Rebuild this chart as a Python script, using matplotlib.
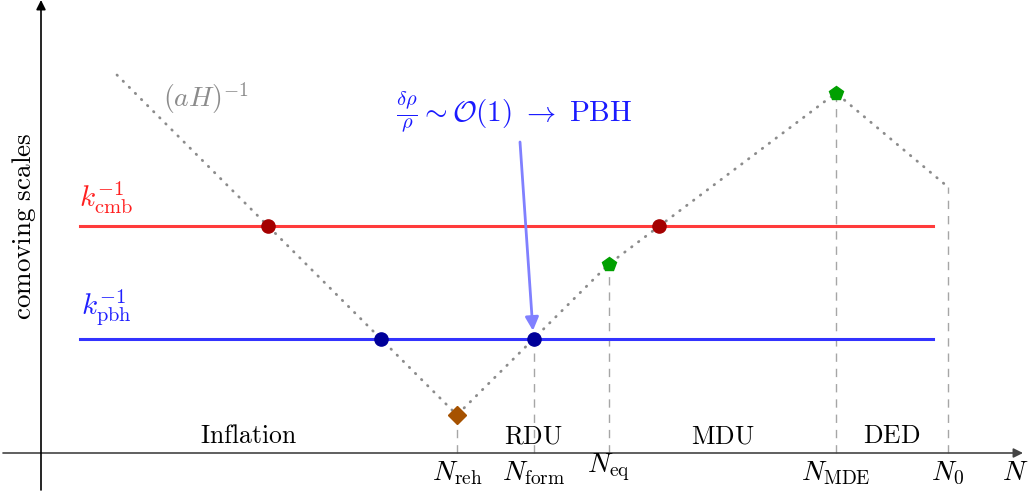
import numpy as np
import matplotlib
matplotlib.use("Agg")
import matplotlib.pyplot as plt

plt.rcParams['mathtext.fontset'] = 'cm'

# comoving Hubble radius (aH)^-1 vs e-folds N (arbitrary units)
N_nodes = [76, 416, 568, 795, 907]      # start, reheating, equality, MDE, today
horizon = [378, 38, 189, 360, 266]
k_cmb = 227
k_pbh = 114
k_span = [39, 892]

regions = ['Inflation', 'RDU', 'MDU', 'DED']


def crossings(level):
    out = []
    for i in range(len(N_nodes) - 1):
        x0, x1 = N_nodes[i], N_nodes[i + 1]
        y0, y1 = horizon[i], horizon[i + 1]
        if (y0 - level) * (y1 - level) <= 0 and y0 != y1:
            out.append(x0 + (level - y0) * (x1 - x0) / (y1 - y0))
    return out


cmb_x = crossings(k_cmb)
pbh_x = crossings(k_pbh)
N_reh, N_eq, N_mde, N_0 = N_nodes[1], N_nodes[2], N_nodes[3], N_nodes[4]
N_form = pbh_x[1]

fig = plt.figure(figsize=(10.31, 4.93), dpi=100)
ax = fig.add_axes([0, 0, 1, 1])
ax.set_xlim(-41, 990)
ax.set_ylim(-40, 453)
ax.axis('off')

# axes with arrows
ax.annotate('', xy=(982, 0), xytext=(-38, 0),
            arrowprops=dict(arrowstyle='-|>', color='#444444', lw=1.2,
                            mutation_scale=14, shrinkA=0, shrinkB=0))
ax.annotate('', xy=(0, 453), xytext=(0, -37),
            arrowprops=dict(arrowstyle='-|>', color='black', lw=1.2,
                            mutation_scale=14, shrinkA=0, shrinkB=0))

# dashed guides down to the N axis
grey_dash = dict(color='#a6a6a6', lw=1.0, ls=(0, (6, 5)), zorder=1)
h_at = lambda n: np.interp(n, N_nodes, horizon)
for n in [N_reh, N_form, N_eq, N_mde, N_0]:
    ax.plot([n, n], [0, h_at(n)], **grey_dash)

# scale lines
ax.plot(k_span, [k_cmb, k_cmb], color='#ff3b3b', lw=2.2, zorder=2)
ax.plot(k_span, [k_pbh, k_pbh], color='#3333ff', lw=2.2, zorder=2)

# Hubble radius
ax.plot(N_nodes, horizon, color='#8c8c8c', lw=2.0, ls=(0, (0.2, 2.9)),
        dash_capstyle='round', zorder=3)

# crossing points and transitions
ax.plot(cmb_x, [k_cmb] * len(cmb_x), 'o', color='#a50000', ms=9.5, zorder=4)
ax.plot(pbh_x, [k_pbh] * len(pbh_x), 'o', color='#000099', ms=9.5, zorder=4)
ax.plot([N_reh], [h_at(N_reh)], 'D', color='#a65200', ms=9, zorder=4)
ax.plot([N_eq, N_mde], [h_at(N_eq), h_at(N_mde)], 'p', color='#00a000',
        ms=10, zorder=4)

# labels
ax.text(65, 255, r'$k_{\mathrm{cmb}}^{-1}$', color='#ff2020', fontsize=21,
        ha='center', va='center')
ax.text(65, 145, r'$k_{\mathrm{pbh}}^{-1}$', color='#2020ff', fontsize=21,
        ha='center', va='center')
ax.text(165, 355, r'$(aH)^{-1}$', color='#8c8c8c', fontsize=20,
        ha='center', va='center')
ax.text(-17, 227, r'$\mathrm{comoving\ scales}$', fontsize=19.5,
        rotation=90, ha='center', va='center')

ax.text(473, 341, r'$\frac{\delta\rho}{\rho}\sim\mathcal{O}(1)\ \rightarrow\ \mathrm{PBH}$',
        color='#1a1aff', fontsize=21, ha='center', va='center')
ax.annotate('', xy=(N_form, k_pbh), xytext=(479, 311),
            arrowprops=dict(arrowstyle='-|>', color='#8080ff', lw=2.0,
                            mutation_scale=20, shrinkA=0, shrinkB=6))

bounds = [0, N_reh, N_eq, N_mde, N_0]
for name, a, b in zip(regions, bounds[:-1], bounds[1:]):
    ax.text((a + b) / 2, 10, r'$\mathrm{%s}$' % name, fontsize=18.5,
            ha='center', va='baseline')

tick_names = [r'$N_{\mathrm{reh}}$', r'$N_{\mathrm{form}}$', r'$N_{\mathrm{eq}}$',
              r'$N_{\mathrm{MDE}}$', r'$N_0$']
for n, s in zip([N_reh, N_form, N_eq, N_mde, N_0], tick_names):
    y = -27 if s != tick_names[2] else -19
    ax.text(n, y, s, fontsize=20, ha='center', va='baseline')
ax.text(974, -27, r'$N$', fontsize=20, ha='center', va='baseline')

fig.savefig('out.png', dpi=100)
